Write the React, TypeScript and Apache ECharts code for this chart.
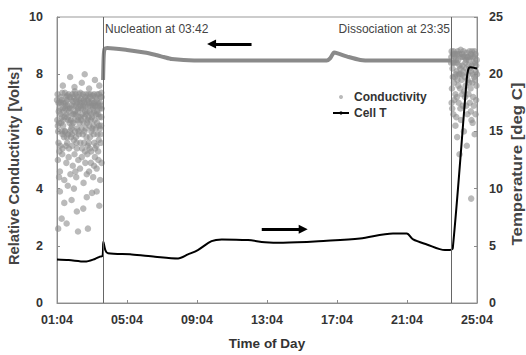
import React, { useEffect, useRef } from "react";
import * as echarts from "echarts";

// x values are minutes after 01:04
const nucleationMin = 158; // 03:42
const dissociationMin = 1351; // 23:35

const xTicks = ["01:04", "05:04", "09:04", "13:04", "17:04", "21:04", "25:04"];

// Conductivity scatter before nucleation [minute, volts]
const condBefore: number[][] = [
  [2, 7.3], [9, 6.8], [15, 7.1], [21, 6.2], [27, 7.35], [33, 6.6], [38, 5.9], [44, 7.2], [50, 6.9], [56, 6.3],
  [61, 7.4], [67, 5.6], [72, 6.8], [78, 7.0], [84, 6.1], [89, 7.3], [95, 6.5], [101, 5.8], [106, 7.1], [112, 6.7],
  [118, 6.0], [123, 7.25], [129, 6.4], [135, 5.5], [140, 7.0], [146, 6.8], [151, 6.2],
  [4, 6.0], [11, 5.5], [17, 6.5], [24, 5.8], [30, 7.0], [36, 6.9], [41, 5.4], [47, 6.4], [53, 7.3], [58, 5.7],
  [64, 6.6], [70, 7.2], [75, 5.9], [81, 6.5], [86, 5.4], [92, 7.1], [98, 6.9], [103, 6.3], [109, 5.6], [115, 7.3],
  [120, 6.5], [126, 5.9], [132, 6.9], [137, 6.3], [143, 5.7], [149, 7.2],
  [6, 6.7], [13, 7.2], [19, 5.9], [26, 6.5], [31, 5.5], [39, 6.4], [45, 6.0], [52, 5.5], [59, 6.9], [65, 7.1],
  [69, 6.1], [77, 6.3], [83, 7.15], [88, 5.9], [94, 6.0], [100, 7.3], [105, 5.5], [111, 6.2], [117, 5.3], [122, 6.9],
  [128, 7.0], [134, 6.6], [139, 5.9], [145, 6.5], [152, 7.35],
  [1, 6.4], [8, 5.3], [14, 6.3], [22, 7.0], [28, 6.0], [35, 7.25], [42, 6.7], [48, 5.8], [55, 7.05], [62, 6.0],
  [68, 5.4], [74, 6.5], [80, 7.35], [87, 6.6], [93, 5.6], [99, 6.1], [107, 6.9], [113, 5.8], [119, 7.0], [125, 6.2],
  [131, 5.4], [138, 7.3], [144, 6.2], [150, 5.6],
  [5, 7.0], [12, 6.6], [18, 7.35], [23, 6.7], [29, 6.9], [34, 7.1], [40, 6.8], [49, 7.1], [57, 6.6], [63, 7.3],
  [71, 6.7], [76, 7.1], [82, 6.8], [90, 6.9], [96, 7.2], [104, 6.7], [108, 7.3], [114, 6.9], [121, 7.1], [127, 6.7],
  [133, 7.2], [141, 6.6], [147, 7.0], [153, 6.8],
  [0, 7.1], [7, 6.3], [14, 7.0], [20, 6.8], [26, 6.0], [32, 7.2], [37, 6.5], [43, 6.3], [49, 6.1], [54, 6.6],
  [60, 6.4], [66, 6.9], [71, 6.4], [77, 7.3], [83, 6.4], [88, 6.8], [94, 7.0], [99, 6.6], [105, 6.4], [110, 7.0],
  [116, 6.4], [121, 6.1], [127, 7.3], [133, 6.1], [138, 6.7], [144, 7.3], [150, 6.9], [153, 7.2],
  [3, 6.2], [10, 7.0], [16, 6.0], [22, 6.4], [28, 6.8], [34, 5.8], [40, 7.3], [46, 6.8], [51, 6.2], [57, 7.2],
  [62, 6.7], [68, 7.0], [74, 6.0], [79, 6.9], [85, 7.0], [91, 6.3], [97, 6.7], [102, 7.1], [108, 6.5], [113, 7.2],
  [119, 6.6], [124, 6.8], [130, 6.9], [136, 7.1], [142, 6.9], [147, 6.1], [152, 6.5],
  [5, 5.6], [19, 5.4], [35, 5.6], [51, 5.9], [65, 5.8], [80, 5.6], [96, 5.3], [112, 5.4], [128, 5.6], [141, 5.3],
  [149, 5.9],
  [3, 5.0], [10, 4.6], [18, 5.2], [25, 4.3], [32, 4.9], [40, 5.1], [46, 4.5], [54, 4.8], [60, 5.2], [66, 4.4],
  [73, 5.0], [79, 4.7], [85, 5.1], [91, 4.2], [97, 4.9], [104, 5.2], [110, 4.6], [116, 4.9], [124, 4.4], [130, 5.1],
  [136, 4.7], [142, 5.0], [148, 4.3], [153, 4.9], [7, 4.4], [37, 4.1], [63, 4.6], [102, 4.5], [127, 4.8],
  [4, 2.6], [16, 2.95], [33, 2.78], [72, 2.5], [68, 3.2], [102, 3.7], [106, 2.6], [136, 3.9], [10, 3.9], [25, 3.5],
  [50, 3.6], [90, 3.3], [120, 3.85], [145, 3.4], [58, 4.0],
  [20, 7.6], [45, 7.9], [60, 7.55], [85, 7.7], [110, 7.5], [130, 7.8], [145, 7.6], [95, 8.0],
];

// Conductivity scatter after dissociation [minute, volts]
const condAfter: number[][] = [
  [1352, 8.6], [1356, 8.2], [1360, 8.8], [1364, 7.9], [1368, 8.5], [1372, 8.7], [1376, 7.6], [1380, 8.3],
  [1384, 8.85], [1388, 8.0], [1392, 8.6], [1396, 7.4], [1400, 8.4], [1404, 8.75], [1408, 7.8], [1412, 8.5],
  [1416, 8.2], [1420, 8.7], [1424, 7.7], [1428, 8.4], [1432, 8.8], [1436, 8.1], [1439, 8.5],
  [1354, 7.5], [1358, 8.7], [1362, 8.4], [1366, 7.3], [1370, 8.1], [1374, 8.8], [1378, 8.0], [1382, 7.5],
  [1386, 8.6], [1390, 8.3], [1394, 8.8], [1398, 7.9], [1402, 8.2], [1406, 8.6], [1410, 8.0], [1414, 8.8],
  [1418, 7.5], [1422, 8.3], [1426, 8.6], [1430, 7.9], [1434, 8.4], [1438, 7.6],
  [1351, 8.4], [1353, 8.8], [1357, 7.9], [1359, 8.4], [1361, 7.7], [1363, 8.6], [1365, 8.7], [1367, 8.0],
  [1371, 8.4], [1373, 7.8], [1375, 8.5], [1379, 8.7], [1381, 8.0], [1383, 8.2], [1387, 7.8], [1389, 8.7],
  [1393, 8.1], [1397, 8.6], [1401, 7.6], [1403, 8.5], [1409, 8.6], [1411, 8.3], [1413, 7.7], [1417, 8.6],
  [1419, 8.1], [1423, 8.8], [1427, 8.0], [1431, 8.6], [1433, 7.8], [1435, 8.7], [1437, 8.3], [1440, 8.0],
  [1355, 6.8], [1362, 7.1], [1369, 6.5], [1377, 7.0], [1385, 6.4], [1391, 6.9], [1399, 7.2], [1407, 6.6],
  [1415, 7.0], [1421, 6.4], [1429, 6.9], [1437, 7.1], [1366, 6.2], [1395, 6.0], [1425, 6.3],
  [1353, 7.0], [1359, 6.6], [1371, 7.2], [1383, 6.8], [1389, 7.3], [1403, 6.9], [1411, 7.3], [1419, 6.7],
  [1427, 7.2], [1435, 6.6],
  [1380, 5.2], [1420, 3.65], [1372, 5.8], [1405, 5.5], [1432, 5.9],
];

// Conductivity dense trace between nucleation and dissociation [minute, volts]
const condTrace: number[][] = [
  [158, 7.8], [160, 8.6], [163, 8.88], [172, 8.92], [240, 8.85], [300, 8.76], [336, 8.68], [366, 8.6],
  [393, 8.53], [470, 8.48], [700, 8.48], [925, 8.48], [937, 8.56], [950, 8.76], [965, 8.72], [1000, 8.6],
  [1040, 8.5], [1080, 8.48], [1351, 8.48],
];

// Cell temperature [minute, deg C]
const cellT: number[][] = [
  [0, 3.8], [40, 3.75], [96, 3.62], [130, 3.85], [147, 4.05], [156, 4.1], [159, 5.35], [166, 4.6], [175, 4.34],
  [256, 4.25], [336, 4.05], [415, 3.9], [449, 4.25], [483, 4.63], [530, 5.41], [565, 5.56], [655, 5.5],
  [713, 5.32], [775, 5.27], [925, 5.44], [1039, 5.64], [1152, 6.08], [1199, 6.08], [1221, 5.56],
  [1268, 5.12], [1330, 4.63], [1347, 4.63], [1357, 4.8], [1405, 19.6], [1410, 20.4], [1416, 20.6],
  [1440, 20.5],
];

export default function App() {
  const ref = useRef<HTMLDivElement>(null);
  useEffect(() => {
    if (!ref.current) return;
    const chart = echarts.init(ref.current, undefined, { renderer: "svg" });
    const font = "'Liberation Sans', Arial, sans-serif";
    const axisColor = "#8c8c8c";
    const labelStyle = { color: "#333", fontWeight: "bold" as const, fontSize: 12.5, fontFamily: font };
    chart.setOption({
      animation: false,
      backgroundColor: "#fff",
      textStyle: { fontFamily: font },
      grid: {
        left: 57,
        right: 49,
        top: 17,
        bottom: 50,
        show: true,
        borderColor: "#999",
        borderWidth: 1,
        backgroundColor: "transparent",
      },
      legend: {
        left: 327,
        top: 86,
        orient: "vertical",
        itemWidth: 16,
        itemHeight: 4,
        itemGap: 4,
        textStyle: { color: "#333", fontWeight: "bold", fontSize: 12, fontFamily: font },
        data: [{ name: "Conductivity" }, { name: "Cell T" }],
      },
      xAxis: {
        type: "value",
        min: 0,
        max: 1440,
        interval: 240,
        name: "Time of Day",
        nameLocation: "middle",
        nameGap: 33,
        nameTextStyle: { color: "#333", fontWeight: "bold", fontSize: 13.5, fontFamily: font },
        axisLine: { show: true, lineStyle: { color: axisColor } },
        axisTick: { show: true, inside: true, length: 3, lineStyle: { color: axisColor } },
        splitLine: { show: false },
        axisLabel: { ...labelStyle, margin: 10, formatter: (v: number) => xTicks[Math.round(v / 240)] },
      },
      yAxis: [
        {
          type: "value",
          min: 0,
          max: 10,
          interval: 2,
          position: "left",
          axisLine: { show: true, lineStyle: { color: axisColor } },
          axisTick: { show: true, inside: true, length: 3, lineStyle: { color: axisColor } },
          splitLine: { show: false },
          axisLabel: { ...labelStyle, margin: 14 },
        },
        {
          type: "value",
          min: 0,
          max: 25,
          interval: 5,
          position: "right",
          axisLine: { show: true, lineStyle: { color: axisColor } },
          axisTick: { show: true, inside: true, length: 3, lineStyle: { color: axisColor } },
          splitLine: { show: false },
          axisLabel: { ...labelStyle, margin: 12 },
        },
      ],
      series: [
        {
          name: "Conductivity",
          type: "scatter",
          yAxisIndex: 0,
          symbol: "circle",
          symbolSize: 6.5,
          clip: true,
          itemStyle: { color: "#8c8c8c", opacity: 0.6 },
          data: [...condBefore, ...condAfter],
          markLine: {
            silent: true,
            symbol: ["none", "none"],
            label: { show: false },
            lineStyle: { color: "#666", width: 1, type: "solid" },
            data: [{ xAxis: nucleationMin }, { xAxis: dissociationMin }],
          },
          z: 2,
        },
        {
          name: "condTrace",
          type: "line",
          yAxisIndex: 0,
          symbol: "none",
          smooth: 0.2,
          lineStyle: { color: "#8a8a8a", width: 4 },
          data: condTrace,
          markLine: {
            silent: true,
            label: { show: false },
            lineStyle: { color: "#000", width: 3, type: "solid" },
            data: [
              [
                { coord: [667, 9.06], symbol: "none" },
                { coord: [530, 9.06], symbol: "triangle", symbolSize: [9, 9] },
              ],
            ],
          },
          z: 3,
        },
        {
          name: "Cell T",
          type: "line",
          yAxisIndex: 1,
          symbol: "none",
          smooth: 0.3,
          lineStyle: { color: "#000", width: 2 },
          itemStyle: { color: "#000" },
          data: cellT,
          markLine: {
            silent: true,
            label: { show: false },
            lineStyle: { color: "#000", width: 3, type: "solid" },
            data: [
              [
                { coord: [702, 6.45], symbol: "none" },
                { coord: [844, 6.45], symbol: "triangle", symbolSize: [9, 9] },
              ],
            ],
          },
          z: 4,
        },
      ],
      graphic: [
        {
          type: "text",
          left: 105,
          top: 23,
          style: { text: "Nucleation at 03:42", fill: "#444", font: `12px ${font}` },
        },
        {
          type: "text",
          right: 76,
          top: 23,
          style: { text: "Dissociation at 23:35", fill: "#444", font: `12px ${font}` },
        },
        {
          type: "text",
          x: 14,
          y: 166,
          rotation: Math.PI / 2,
          scaleX: 1.05,
          style: {
            text: "Relative Conductivity [Volts]",
            fill: "#444",
            font: `bold 14px ${font}`,
            align: "center",
            verticalAlign: "middle",
          },
        },
        {
          type: "text",
          x: 517,
          y: 164,
          rotation: Math.PI / 2,
          scaleX: 1.12,
          style: {
            text: "Temperature [deg C]",
            fill: "#444",
            font: `bold 15px ${font}`,
            align: "center",
            verticalAlign: "middle",
          },
        },
      ],
    });
    return () => chart.dispose();
  }, []);
  return <div ref={ref} style={{ width: 526, height: 355, position: "absolute", left: 0, top: 0 }} />;
}
